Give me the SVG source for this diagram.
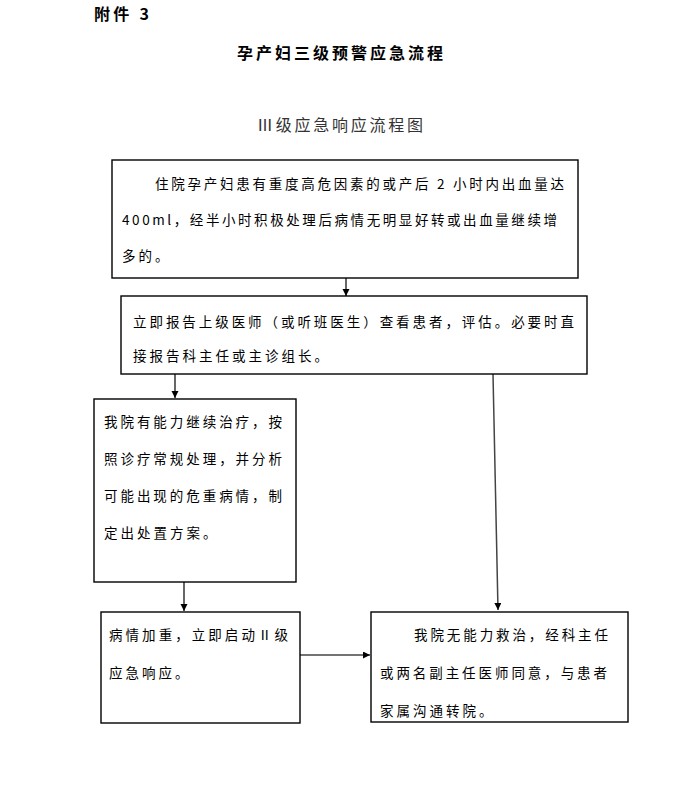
<svg xmlns="http://www.w3.org/2000/svg" width="678" height="794" viewBox="0 0 678 794">
<style>
.box{fill:#fff;stroke:#000;stroke-width:1.4}
.t{font-family:"Noto Sans CJK SC","Liberation Serif",sans-serif;font-size:13.5px;fill:#000;letter-spacing:3px}
.h{font-family:"Noto Sans CJK SC","Liberation Serif",sans-serif;fill:#000}
.c{fill:none;stroke:#000;stroke-width:1.2}
.cg{fill:none;stroke:#444;stroke-width:1.5}
</style>
<defs>
<marker id="arr" markerUnits="userSpaceOnUse" markerWidth="8" markerHeight="8" refX="7" refY="3.5" orient="auto">
<path d="M0,0 L7,3.5 L0,7 z" fill="#000"/>
</marker>
</defs>
<rect width="678" height="794" fill="#fff"/>
<g id="header">
<text class="h" x="94" y="20" font-size="16" font-weight="bold" textLength="55" lengthAdjust="spacing">附件 3</text>
<text class="h" x="237" y="59" font-size="16" font-weight="bold" textLength="206" lengthAdjust="spacing">孕产妇三级预警应急流程</text>
<text class="h" x="257" y="131" font-size="16" style="fill:#333" textLength="166" lengthAdjust="spacing">Ⅲ级应急响应流程图</text>
</g>
<g id="connectors">
<line class="c" x1="346" y1="278" x2="346" y2="296" marker-end="url(#arr)"/>
<line class="c" x1="175" y1="374" x2="175" y2="398" marker-end="url(#arr)"/>
<line class="cg" x1="493" y1="374" x2="498" y2="610" marker-end="url(#arr)"/>
<line class="c" x1="184" y1="582" x2="184" y2="611" marker-end="url(#arr)"/>
<line class="cg" x1="300" y1="655" x2="370" y2="655" marker-end="url(#arr)"/>
</g>
<g id="node1">
<rect class="box" x="112" y="160" width="466" height="118"/>
<text class="t" x="155" y="189" textLength="412" lengthAdjust="spacing">住院孕产妇患有重度高危因素的或产后 2 小时内出血量达</text>
<text class="t" x="122" y="225" textLength="438" lengthAdjust="spacing">400ml，经半小时积极处理后病情无明显好转或出血量继续增</text>
<text class="t" x="122" y="261">多的。</text>
</g>
<g id="node2">
<rect class="box" x="121" y="296" width="466" height="78"/>
<text class="t" x="133" y="327" textLength="444" lengthAdjust="spacing">立即报告上级医师（或听班医生）查看患者，评估。必要时直</text>
<text class="t" x="133" y="361">接报告科主任或主诊组长。</text>
</g>
<g id="node3">
<rect class="box" x="94" y="399" width="202" height="183"/>
<text class="t" x="104" y="427" textLength="181" lengthAdjust="spacing">我院有能力继续治疗，按</text>
<text class="t" x="104" y="464" textLength="181" lengthAdjust="spacing">照诊疗常规处理，并分析</text>
<text class="t" x="104" y="501" textLength="181" lengthAdjust="spacing">可能出现的危重病情，制</text>
<text class="t" x="104" y="538">定出处置方案。</text>
</g>
<g id="node4">
<rect class="box" x="101" y="612" width="199" height="111"/>
<text class="t" x="109" y="640" textLength="182" lengthAdjust="spacing">病情加重，立即启动Ⅱ级</text>
<text class="t" x="109" y="678">应急响应。</text>
</g>
<g id="node5">
<rect class="box" x="371" y="612" width="257" height="110"/>
<text class="t" x="414" y="640" textLength="197" lengthAdjust="spacing">我院无能力救治，经科主任</text>
<text class="t" x="380" y="678" textLength="230" lengthAdjust="spacing">或两名副主任医师同意，与患者</text>
<text class="t" x="380" y="716">家属沟通转院。</text>
</g>
</svg>
